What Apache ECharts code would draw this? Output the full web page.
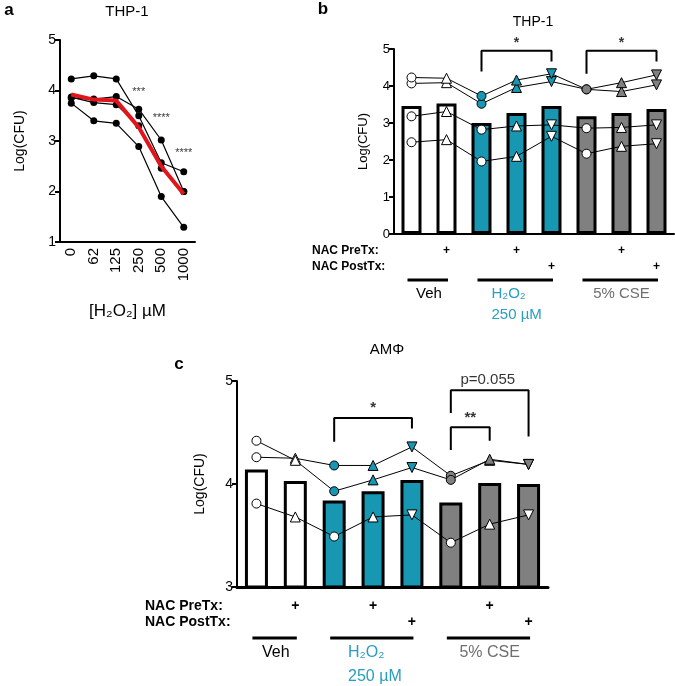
<!DOCTYPE html>
<html><head><meta charset="utf-8">
<script src="https://cdn.jsdelivr.net/npm/echarts@6/dist/echarts.min.js"></script>
<style>html,body{margin:0;padding:0;background:#fff}#c{width:675px;height:686px}</style>
</head><body><div id="c"></div>
<script>
// ---------- Panel a data ----------
const aCats = ['0', '62', '125', '250', '500', '1000'];
const aDonor1 = [4.23, 4.29, 4.23, 3.50, 2.57, 2.39];
const aDonor2 = [3.85, 3.83, 3.88, 3.63, 3.02, 2.00];
const aDonor3 = [3.87, 3.76, 3.72, 3.30, 2.46, 2.00];
const aDonor4 = [3.75, 3.40, 3.35, 2.89, 1.90, 1.29];
const aMean   = [3.92, 3.82, 3.80, 3.27, 2.50, 1.95];
const aStarCat = [3, 4, 5];
const aStarY = [3.97, 3.46, 2.76];
const aStarText = ['***', '****', '****'];

// ---------- Shared condition layout (panels b, c) ----------
const conds = ['Veh', 'Veh+NAC pre', 'H2O2', 'H2O2+NAC pre', 'H2O2+NAC post', 'CSE', 'CSE+NAC pre', 'CSE+NAC post'];
const condGroup = ['veh', 'veh', 'h2o2', 'h2o2', 'h2o2', 'cse', 'cse', 'cse'];
const condShape = ['circle', 'up', 'circle', 'up', 'down', 'circle', 'up', 'down'];
const preTx  = ['', '+', '', '+', '', '', '+', ''];
const postTx = ['', '', '', '', '+', '', '', '+'];

// ---------- Panel b data ----------
const bBars   = [3.46, 3.53, 3.00, 3.27, 3.46, 3.18, 3.27, 3.38];
const bDonor1 = [4.23, 4.21, 3.73, 4.16, 4.33, 3.91, 4.09, 4.30];
const bDonor2 = [4.07, 4.09, 3.52, 3.96, 4.12, 3.91, 3.85, 4.03];
const bDonor3 = [3.18, 3.31, 2.82, 2.92, 2.95, 2.86, 2.88, 2.95];
const bDonor4 = [2.48, 2.55, 1.96, 2.10, 2.64, 2.17, 2.37, 2.44];
// brackets: [fromIdx, toIdx, legLeftY, topY, legRightY]
const bBrackets = [[2, 4, 4.39, 4.95, 4.66], [5, 7, 4.33, 4.95, 4.66]];
const bBracketText = ['*', '*'];
const bBracketTextX = [3, 6];
const bBracketTextY = [5.17, 5.17];

// ---------- Panel c data ----------
const cBars   = [4.14, 4.03, 3.84, 3.93, 4.04, 3.82, 4.01, 4.00];
const cDonor1 = [4.42, 4.23, 3.93, 4.04, 4.16, 4.04, 4.24, 4.19];
const cDonor2 = [4.26, 4.25, 4.18, 4.18, 4.36, 4.08, 4.23, 4.19];
const cDonor3 = [3.81, 3.68, 3.49, 3.68, 3.70, 3.43, 3.61, 3.70];
const cBrackets = [[2, 4, 4.41, 4.64, 4.54], [5, 6, 4.33, 4.55, 4.42], [5, 7, 4.69, 4.91, 4.46]];
const cBracketText = ['*', '**', 'p=0.055'];
const cBracketTextX = [3, 5.5, 5.95];
const cBracketTextY = [4.74, 4.64, 5.01];

const groups = [
  {name: 'Veh', from: 0, to: 1, color: '#000000'},
  {name: 'H₂O₂', sub: '250 µM', from: 2, to: 4, color: '#2a9ec0'},
  {name: '5% CSE', from: 5, to: 7, color: '#6e6e6e'}
];

const FONT = '"Liberation Sans", Arial, Helvetica, sans-serif';
const TEAL = '#1797b1';
const GRAY = '#808080';
const fillOf = {veh: '#ffffff', h2o2: TEAL, cse: GRAY};

const chart = echarts.init(document.getElementById('c'), null, {renderer: 'canvas'});

function donor(vals, filled, xi, yi, size) {
  return {
    type: 'line', xAxisIndex: xi, yAxisIndex: yi, z: 5, animation: false, silent: true,
    lineStyle: {color: '#000', width: 1},
    data: vals.map((v, i) => ({
      value: v,
      symbol: condShape[i] === 'circle' ? 'circle' : 'triangle',
      symbolRotate: condShape[i] === 'down' ? 180 : 0,
      symbolSize: condShape[i] === 'circle' ? size : size + 1,
      itemStyle: {color: filled ? fillOf[condGroup[i]] : '#ffffff', borderColor: '#000', borderWidth: 1}
    }))
  };
}
function bars(vals, xi, yi, w) {
  return {
    type: 'bar', xAxisIndex: xi, yAxisIndex: yi, barWidth: w, z: 2, animation: false, silent: true,
    data: vals.map((v, i) => ({value: v, itemStyle: {color: fillOf[condGroup[i]], borderColor: '#000', borderWidth: 3}}))
  };
}
function bracketSeries(list, xi, yi) {
  return list.map(b => ({
    type: 'line', xAxisIndex: xi, yAxisIndex: yi, symbol: 'none', z: 6, animation: false, silent: true,
    lineStyle: {color: '#000', width: 2}, clip: false,
    data: [[b[0], b[2]], [b[0], b[3]], [b[1], b[3]], [b[1], b[4]]]
  }));
}
function textSeries(xs, ys, texts, xi, yi, size) {
  return {
    type: 'scatter', xAxisIndex: xi, yAxisIndex: yi, symbolSize: 1, clip: false, z: 7, animation: false, silent: true,
    itemStyle: {color: 'transparent'},
    label: {show: true, position: 'inside', formatter: p => texts[p.dataIndex], color: '#000',
      fontSize: size, fontFamily: FONT, fontWeight: 'bold'},
    data: xs.map((x, i) => [x, ys[i]])
  };
}

function catAxis(grid, data, labelOpt) {
  return Object.assign({
    type: 'category', gridIndex: grid, data: data, boundaryGap: true,
    axisLine: {onZero: false, lineStyle: {color: '#000', width: 2}},
    axisTick: {alignWithLabel: true, length: 5, lineStyle: {color: '#000', width: 2}},
    splitLine: {show: false}
  }, labelOpt);
}
function hiddenX(grid) {
  return {type: 'value', gridIndex: grid, min: -0.5, max: 7.5, show: false, splitLine: {show: false},
    axisLine: {show: false, onZero: false}, axisTick: {show: false}, axisLabel: {show: false}};
}
function valAxis(grid, min, max, fs, gap) {
  return {
    type: 'value', gridIndex: grid, min: min, max: max, interval: 1,
    name: 'Log(CFU)', nameLocation: 'middle', nameGap: gap,
    nameTextStyle: {color: '#000', fontSize: fs, fontFamily: FONT},
    axisLine: {show: true, onZero: false, lineStyle: {color: '#000', width: 2}},
    axisTick: {show: true, length: 5, lineStyle: {color: '#000', width: 2}},
    axisLabel: {color: '#000', fontSize: fs, fontFamily: FONT, margin: 4},
    splitLine: {show: false}
  };
}
const nacLabel = (fs, margin) => ({
  axisLabel: {interval: 0, color: '#000', fontWeight: 'bold', fontSize: fs, fontFamily: FONT, lineHeight: 16, margin: margin,
    formatter: (v, i) => (preTx[i] || ' ') + '\n' + (postTx[i] || ' ')}
});

const option = {
  backgroundColor: '#ffffff',
  animation: false,
  grid: [
    {left: 60, top: 40, width: 135, height: 202, containLabel: false, outerBoundsMode: 'none'},
    {left: 394, top: 49, width: 280, height: 185, containLabel: false, outerBoundsMode: 'none'},
    {left: 237, top: 381, width: 311, height: 206, containLabel: false, outerBoundsMode: 'none'}
  ],
  xAxis: [
    catAxis(0, aCats, {
      name: '[H₂O₂] µM', nameLocation: 'middle', nameGap: 61,
      nameTextStyle: {color: '#000', fontSize: 17, fontFamily: FONT},
      axisLabel: {interval: 0, rotate: 90, color: '#000', fontSize: 15, fontFamily: FONT, margin: 6}
    }),
    catAxis(1, conds, nacLabel(12, 9)),
    hiddenX(1),
    Object.assign(catAxis(2, conds, nacLabel(14, 11)), {axisLine: {onZero: false, lineStyle: {color: '#000', width: 3}}}),
    hiddenX(2)
  ],
  yAxis: [
    valAxis(0, 1, 5, 14, 33),
    valAxis(1, 0, 5, 13, 24),
    valAxis(2, 3, 5, 14, 30)
  ],
  series: [
    // panel a
    ...[aDonor1, aDonor2, aDonor3, aDonor4].map(d => ({
      type: 'line', xAxisIndex: 0, yAxisIndex: 0, data: d, symbol: 'circle', symbolSize: 7, z: 3,
      animation: false, silent: true, itemStyle: {color: '#000'}, lineStyle: {color: '#000', width: 1.2}
    })),
    {type: 'line', xAxisIndex: 0, yAxisIndex: 0, data: aMean, symbol: 'none', z: 4, animation: false, silent: true,
      lineStyle: {color: '#e3141b', width: 4}},
    {type: 'scatter', xAxisIndex: 0, yAxisIndex: 0, symbolSize: 1, z: 7, animation: false, silent: true, clip: false,
      itemStyle: {color: 'transparent'},
      label: {show: true, position: 'inside', formatter: p => aStarText[p.dataIndex], color: '#000', fontSize: 11, fontFamily: FONT},
      data: aStarCat.map((c, i) => [c, aStarY[i]])},
    // panel b
    bars(bBars, 1, 1, 20),
    donor(bDonor4, false, 1, 1, 9),
    donor(bDonor3, false, 1, 1, 9),
    donor(bDonor2, true, 1, 1, 9),
    donor(bDonor1, true, 1, 1, 9),
    ...bracketSeries(bBrackets, 2, 1),
    textSeries(bBracketTextX, bBracketTextY, bBracketText, 2, 1, 14),
    // panel c
    bars(cBars, 3, 2, 23),
    donor(cDonor3, false, 3, 2, 9),
    donor(cDonor2, true, 3, 2, 9),
    donor(cDonor1, true, 3, 2, 9),
    ...bracketSeries(cBrackets, 4, 2),
    {
      type: 'scatter', xAxisIndex: 4, yAxisIndex: 2, symbolSize: 1, clip: false, z: 7, animation: false, silent: true,
      itemStyle: {color: 'transparent'},
      label: {show: true, position: 'inside', formatter: p => cBracketText[p.dataIndex], color: '#000',
        fontSize: 15, fontFamily: FONT},
      data: cBracketTextX.map((x, i) => ({value: [x, cBracketTextY[i]],
        label: {fontWeight: cBracketText[i].startsWith('p') ? 'normal' : 'bold'}}))
    }
  ]
};
chart.setOption(option);

// ---------- text annotations ----------
function txt(x, y, s, o) {
  return Object.assign({type: 'text', x: x, y: y, silent: true, z: 10,
    style: Object.assign({text: s, fill: '#000', font: (o && o.font) || ('14px ' + FONT), textAlign: 'center', textVerticalAlign: 'middle'}, (o && o.style) || {})}, (o && o.extra) || {});
}
const g = [];
g.push(txt(9, 10, 'a', {font: 'bold 17px ' + FONT}));
g.push(txt(127, 12, 'THP-1', {font: '15px ' + FONT}));
g.push(txt(323, 9, 'b', {font: 'bold 17px ' + FONT}));
g.push(txt(533, 22, 'THP-1', {font: '14px ' + FONT}));
g.push(txt(312, 251, 'NAC PreTx:', {font: 'bold 12px ' + FONT, style: {textAlign: 'left'}}));
g.push(txt(312, 267, 'NAC PostTx:', {font: 'bold 12px ' + FONT, style: {textAlign: 'left'}}));
g.push(txt(179, 364, 'c', {font: 'bold 17px ' + FONT}));
g.push(txt(387, 350, 'AMΦ', {font: '15px ' + FONT}));
g.push(txt(145, 606, 'NAC PreTx:', {font: 'bold 14px ' + FONT, style: {textAlign: 'left'}}));
g.push(txt(145, 622, 'NAC PostTx:', {font: 'bold 14px ' + FONT, style: {textAlign: 'left'}}));

function groupAnn(xAxisIndex, lineY, labelY, subY, fs) {
  groups.forEach(gr => {
    const p1 = chart.convertToPixel({xAxisIndex: xAxisIndex}, gr.from);
    const p2 = chart.convertToPixel({xAxisIndex: xAxisIndex}, gr.to);
    g.push({type: 'line', silent: true, z: 10, shape: {x1: p1 - 4, y1: lineY, x2: p2 + 1.5, y2: lineY}, style: {stroke: '#000', lineWidth: 3}});
    const cx = (p1 + p2) / 2;
    if (gr.sub) {
      const lx = cx - 25;
      g.push(txt(lx, labelY, gr.name, {font: fs + 'px ' + FONT, style: {fill: gr.color, textAlign: 'left'}}));
      g.push(txt(lx, subY, gr.sub, {font: fs + 'px ' + FONT, style: {fill: gr.color, textAlign: 'left'}}));
    } else {
      g.push(txt(cx, labelY, gr.name, {font: fs + 'px ' + FONT, style: {fill: gr.color}}));
    }
  });
}
groupAnn(2, 280, 294, 315, 15);
groupAnn(4, 638, 653, 677, 16);

chart.setOption({graphic: g});
</script>
</body></html>
